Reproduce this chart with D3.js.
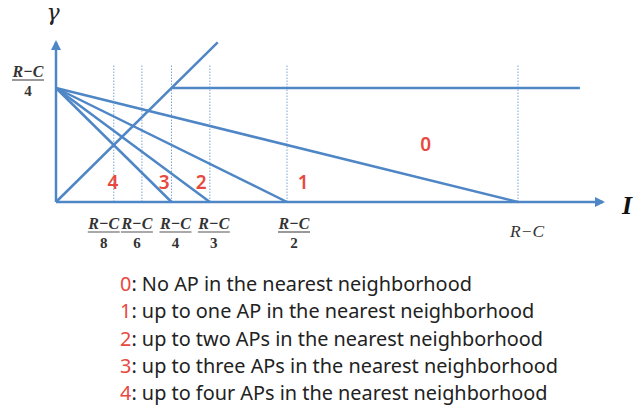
<!DOCTYPE html>
<html>
<head>
<meta charset="utf-8">
<script src="https://cdn.jsdelivr.net/npm/d3@7"></script>
<style>
  body { margin: 0; background: #fff; }
  svg { display: block; }
</style>
</head>
<body>
<svg id="chart" width="636" height="414"></svg>
<script>
// all values in units of (R - C)
var dividers = [0.125, 0.186, 0.25, 0.333, 0.5, 1];          // dotted vertical guides
var dividerTop = 0.30;
var tickDenoms = ['8', '6', '4', '3', '2'];                   // fraction tick labels (R-C)/n
var tickAt = [0.125, 0.186, 0.25, 0.333, 0.5];
var hubY = 0.25;                                              // (R-C)/4 on gamma axis
var rayEnds = [0.25, 0.333, 0.5, 1];                          // lines from hub down to I axis
var diagEnd = 0.35;                                           // gamma = I line
var flatEnd = 1.134;                                          // horizontal gamma=(R-C)/4 line
var xAxisEnd = 1.184, yAxisEnd = 0.351;
var regionNames = ['0', '1', '2', '3', '4'];
var regionX = [0.80, 0.535, 0.314, 0.234, 0.123];
var regionY = [0.112, 0.028, 0.028, 0.028, 0.028];
var legendText = [
    'No AP in the nearest neighborhood',
    'up to one AP in the nearest neighborhood',
    'up to two APs in the nearest neighborhood',
    'up to three APs in the nearest neighborhood',
    'up to four APs in the nearest neighborhood'
];

var blue = '#4f86c6',
    red = '#e8493f',
    serif = "'Liberation Serif', 'Times New Roman', 'DejaVu Serif', serif",
    sans = "'Noto Sans', 'Open Sans', sans-serif";

var svg = d3.select('#chart');

var x = d3.scaleLinear().domain([0, 1]).range([56, 518]),
    y = d3.scaleLinear().domain([0, 0.25]).range([202, 88]);

// dotted guides
svg.append('g').selectAll('line')
    .data(dividers)
    .enter().append('line')
        .attr('x1', function(d) { return x(d); })
        .attr('x2', function(d) { return x(d); })
        .attr('y1', y(0))
        .attr('y2', y(dividerTop))
        .attr('stroke', '#7aa6d8')
        .attr('stroke-width', 1)
        .attr('stroke-dasharray', '1.5,1.5');

// arrowhead
svg.append('defs').append('marker')
    .attr('id', 'arrow')
    .attr('viewBox', '0 0 10 10')
    .attr('refX', 8).attr('refY', 5)
    .attr('markerWidth', 4).attr('markerHeight', 4)
    .attr('orient', 'auto')
  .append('path')
    .attr('d', 'M0,0L10,5L0,10z')
    .attr('fill', blue);

var line = d3.line()
    .x(function(d) { return x(d[0]); })
    .y(function(d) { return y(d[1]); });

var g = svg.append('g')
    .attr('fill', 'none')
    .attr('stroke', blue)
    .attr('stroke-width', 2.5);

// axes
g.append('path').datum([[0, 0], [xAxisEnd, 0]]).attr('d', line).attr('marker-end', 'url(#arrow)');
g.append('path').datum([[0, 0], [0, yAxisEnd]]).attr('d', line).attr('marker-end', 'url(#arrow)');

// rays from hub
g.selectAll('path.ray')
    .data(rayEnds)
    .enter().append('path')
        .attr('class', 'ray')
        .attr('d', function(d) { return line([[0, hubY], [d, 0]]); });

// gamma = I diagonal and flat segment
g.append('path').datum([[0, 0], [diagEnd, diagEnd]]).attr('d', line);
g.append('path').datum([[hubY, hubY], [flatEnd, hubY]]).attr('d', line);

// region numbers
svg.append('g').selectAll('text')
    .data(regionNames)
    .enter().append('text')
        .attr('x', function(d, i) { return x(regionX[i]); })
        .attr('y', function(d, i) { return y(regionY[i]); })
        .attr('text-anchor', 'middle')
        .attr('font-family', sans)
        .attr('font-weight', 600)
        .attr('font-size', 19)
        .attr('fill', red)
        .text(function(d) { return d; });

// fraction helper: (R - C) over den
function fraction(sel, cx, top, den, size) {
    var f = sel.append('g').attr('font-family', serif).attr('font-style', 'italic')
        .attr('font-weight', 'bold').attr('font-size', size).attr('fill', '#333')
        .attr('text-anchor', 'middle');
    f.append('text').attr('x', cx).attr('y', top)
        .attr('textLength', 31).attr('lengthAdjust', 'spacingAndGlyphs')
        .text('R\u2212C');
    f.append('line').attr('x1', cx - 16).attr('x2', cx + 16)
        .attr('y1', top + 3).attr('y2', top + 3)
        .attr('stroke', '#555').attr('stroke-width', 1.2);
    f.append('text').attr('x', cx).attr('y', top + 19)
        .attr('font-style', 'normal').attr('font-size', 15).text(den);
}

var tickDx = [-10, -5, 4, 4, 7];
tickDenoms.forEach(function(d, i) {
    fraction(svg, x(tickAt[i]) + tickDx[i], 229, d, 17);
});
fraction(svg, 28, 77, '4', 17);

svg.append('text')
    .attr('x', x(1) + 9).attr('y', 237)
    .attr('text-anchor', 'middle')
    .attr('font-family', serif).attr('font-style', 'italic')
    .attr('font-size', 16).attr('fill', '#333')
    .attr('textLength', 34).attr('lengthAdjust', 'spacingAndGlyphs')
    .text('R\u2212C');

// axis titles
svg.append('text')
    .attr('x', 53).attr('y', 20)
    .attr('text-anchor', 'middle')
    .attr('font-family', "'DejaVu Serif', serif").attr('font-style', 'italic')
    .attr('font-size', 22).attr('fill', '#222')
    .text('\u03b3');

svg.append('text')
    .attr('x', 622).attr('y', 214)
    .attr('font-family', serif).attr('font-style', 'italic').attr('font-weight', 'bold')
    .attr('font-size', 26).attr('fill', '#111')
    .text('I');

// legend
var legend = svg.append('g')
    .attr('font-family', sans)
    .attr('font-size', 20);

var rows = legend.selectAll('text')
    .data(legendText)
    .enter().append('text')
        .attr('x', 120)
        .attr('y', function(d, i) { return 291 + i * 27.3; })
        .attr('fill', '#222');

rows.append('tspan').attr('fill', red).text(function(d, i) { return regionNames[i]; });
rows.append('tspan').text(function(d) { return ': ' + d; });

// fit font size so the longest row ends where it does in the figure
var widest = d3.max(rows.nodes(), function(n) { return n.getComputedTextLength(); });
legend.attr('font-size', 20 * 438 / widest);
</script>
</body>
</html>
